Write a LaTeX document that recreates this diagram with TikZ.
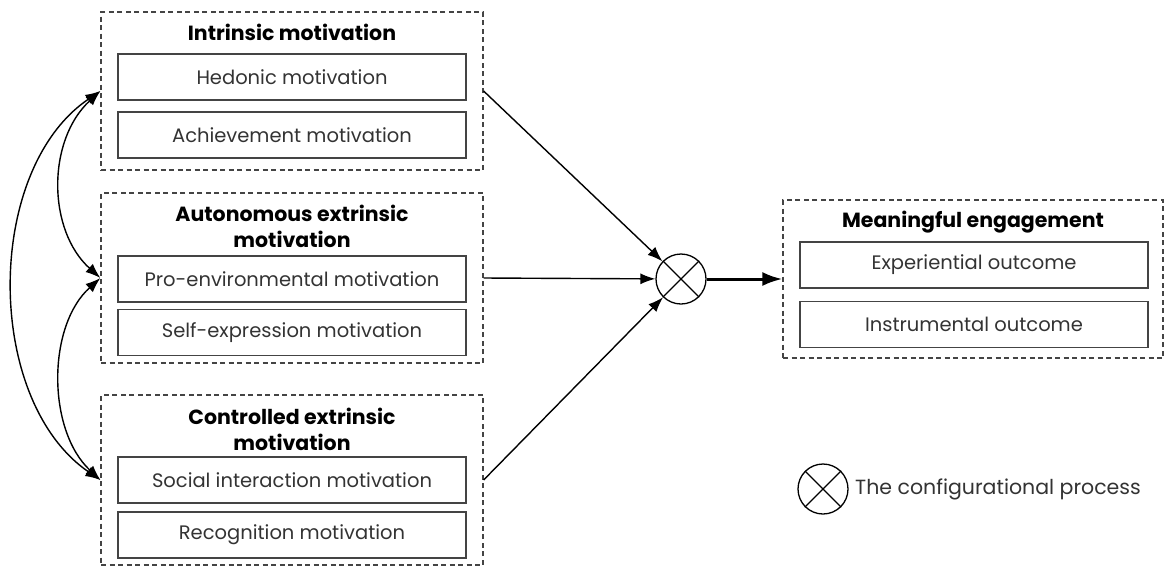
\documentclass[tikz,border=0pt]{standalone}
\usepackage{fontspec}
\setmainfont{Poppins}
\usetikzlibrary{arrows.meta}
\definecolor{ink}{HTML}{333333}
\definecolor{frame}{HTML}{444444}
\begin{document}
\begin{tikzpicture}[x=1pt,y=-1pt,
  group/.style={draw=frame, line width=1.2pt, dash pattern=on 5pt off 3.5pt,
    minimum width=382pt, minimum height=158pt, inner sep=0pt},
  item/.style={draw=frame, line width=1.3pt, minimum width=348pt, minimum height=46pt,
    inner sep=0pt, text=ink, font=\fontsize{19.5}{22}\selectfont},
  heading/.style={align=center, text=black, inner sep=0pt,
    font=\fontsize{20.5}{26}\selectfont\bfseries},
  config/.style={circle, draw=black, line width=1.3pt, minimum size=50pt, inner sep=0pt},
  tip/.tip={Latex[length=15pt,width=11pt]},
  link/.style={-tip, line width=1.4pt},
  mutual/.style={tip-tip, line width=1.4pt},
  mainlink/.style={-{Latex[length=20pt,width=14pt]}, line width=3pt}
]
\useasboundingbox (0,0) rectangle (1166,566);

% intrinsic motivation
\node[group, minimum height=158pt] (g1) at (292,91) {};
\node[heading] (t1) at (292,32) {Intrinsic motivation};
\node[item] (i11) at (292,77) {Hedonic motivation};
\node[item] (i12) at (292,135) {Achievement motivation};

% autonomous extrinsic motivation
\node[group, minimum height=170pt] (g2) at (292,278) {};
\node[heading] (t2) at (292,226) {Autonomous extrinsic\\motivation};
\node[item] (i21) at (292,279) {Pro-environmental motivation};
\node[item] (i22) at (292,332.5) {Self-expression motivation};

% controlled extrinsic motivation
\node[group, minimum height=170pt] (g3) at (292,480) {};
\node[heading] (t3) at (292,429) {Controlled extrinsic\\motivation};
\node[item] (i31) at (292,480) {Social interaction motivation};
\node[item] (i32) at (292,535) {Recognition motivation};

% outcome
\node[group, minimum width=380pt, minimum height=158pt] (g4) at (973,279) {};
\node[heading] (t4) at (973,222) {Meaningful engagement};
\node[item] (i41) at (974,265) {Experiential outcome};
\node[item] (i42) at (974,324.5) {Instrumental outcome};

% configurational process
\node[config] (cp) at (681,279) {};
\draw[line width=1.2pt] (cp.45) -- (cp.225) (cp.135) -- (cp.315);

% legend
\node[config] (lg) at (823,489) {};
\draw[line width=1.2pt] (lg.45) -- (lg.225) (lg.135) -- (lg.315);
\node[anchor=west, text=ink, inner sep=0pt, font=\fontsize{20.5}{22}\selectfont] (lgt) at (855,489) {The configurational process};

% paths into the process and out
\draw[link] (g1.east) -- (cp);
\draw[link] (g2.east) -- (cp);
\draw[link] (g3.east) -- (cp);
\draw[mainlink] (cp) -- (g4.west);

% correlations among motivations
\draw[mutual] (g1.west) .. controls (47,140) and (47,230) .. (g2.west);
\draw[mutual] (g2.west) .. controls (47,326) and (47,430) .. (g3.west);
\draw[mutual] (g1.west) .. controls (-16,170) and (-16,400) .. (g3.west);
\end{tikzpicture}
\end{document}
